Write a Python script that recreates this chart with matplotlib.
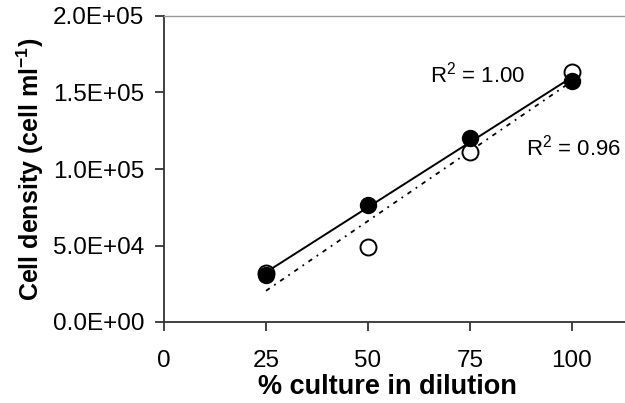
import numpy as np
import matplotlib
matplotlib.use('Agg')
import matplotlib.pyplot as plt

plt.rcParams['font.family'] = ['Liberation Sans', 'DejaVu Sans']
plt.rcParams['mathtext.fontset'] = 'custom'
plt.rcParams['mathtext.rm'] = 'Liberation Sans'
plt.rcParams['mathtext.bf'] = 'Liberation Sans:bold'
plt.rcParams['mathtext.default'] = 'regular'

# data
culture = [25, 50, 75, 100]
filled = [30500, 76500, 120500, 157500]
opened = [32000, 49000, 111000, 163500]
r2_filled = "1.00"
r2_open = "0.96"
xticks = [0, 25, 50, 75, 100]
yticks = [0, 50000, 100000, 150000, 200000]

W, H = 625, 403
fig = plt.figure(figsize=(W / 100, H / 100), dpi=100)
ax = fig.add_axes([164 / W, 1 - 322 / H, 1 - 164 / W, (322 - 16) / H])

x = np.array(culture)
fit_f = np.polyfit(x, filled, 1)
fit_o = np.polyfit(x, opened, 1)

ax.plot(x, np.polyval(fit_o, x), color='black', lw=1.3, linestyle=(0, (2.5, 3, 1, 3)), zorder=2)
ax.plot(x, np.polyval(fit_f, x), color='black', lw=1.4, linestyle='-', zorder=2)
ax.plot(x, opened, 'o', ms=11.5, mfc='white', mec='black', mew=1.4, zorder=3)
ax.plot(x, filled, 'o', ms=11.5, mfc='black', mec='black', zorder=4)

fig.text(430 / W, 1 - 75 / H, "R$^2$ = " + r2_filled, fontsize=16, ha='left', va='center')
fig.text(526 / W, 1 - 148 / H, "R$^2$ = " + r2_open, fontsize=16, ha='left', va='center')

ax.set_xlim(0, 113)
ax.set_ylim(0, 200000)
ax.set_xticks(xticks)
ax.set_yticks(yticks)
ax.set_yticklabels(['%.1E' % v for v in yticks])
ax.tick_params(axis='both', direction='out', length=6.3, width=1.2, labelsize=17.5,
               colors='#222222', labelcolor='black')
ax.tick_params(axis='x', pad=14)
ax.tick_params(axis='y', pad=8)

ax.spines['right'].set_visible(False)
ax.spines['top'].set_color('#999999')
ax.spines['top'].set_linewidth(1.0)
for s in ['left', 'bottom']:
    ax.spines[s].set_color('#333333')
    ax.spines[s].set_linewidth(1.3)

ax.set_xlabel('% culture in dilution', fontsize=19.5, fontweight='bold')
ax.set_ylabel(r'Cell density (cell ml$^{\mathbf{-1}}$)', fontsize=18, fontweight='bold')
ax.xaxis.set_label_coords((387 - 164) / (W - 164), -(387 - 322) / 306, transform=ax.transAxes)
ax.yaxis.set_label_coords(-(164 - 30) / (W - 164), 0.5, transform=ax.transAxes)
ax.xaxis.label.set_va('center')
ax.yaxis.label.set_va('center')

fig.savefig('out.png', dpi=100)
